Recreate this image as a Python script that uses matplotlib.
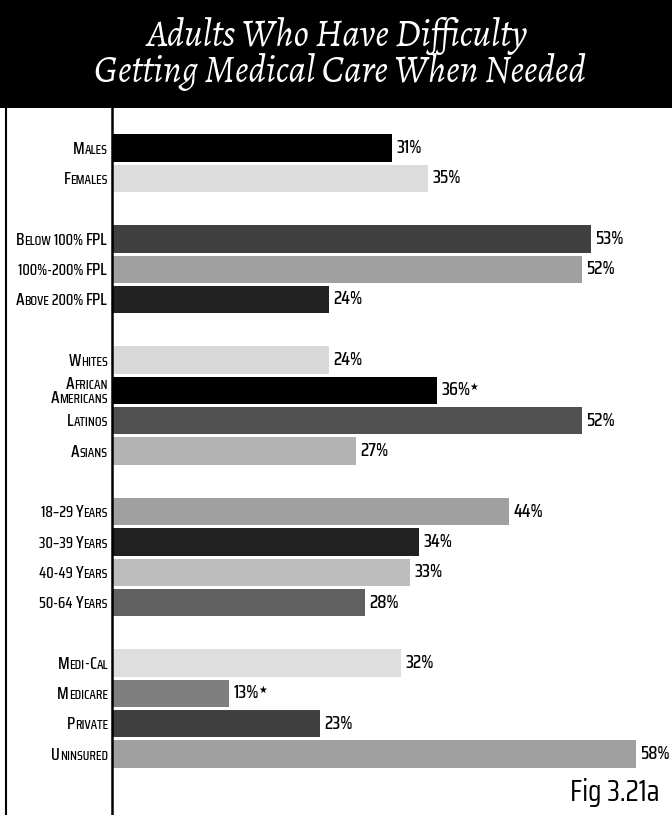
import matplotlib
matplotlib.use("Agg")
import matplotlib.pyplot as plt
from matplotlib.lines import Line2D
from matplotlib.patches import Rectangle

# ---- data -------------------------------------------------------------
categories = [
    "Males", "Females",
    "Below 100% FPL", "100%-200% FPL", "Above 200% FPL",
    "Whites", "African\nAmericans", "Latinos", "Asians",
    "18\u201329 Years", "30\u201339 Years", "40-49 Years", "50-64 Years",
    "Medi-Cal", "Medicare", "Private", "Uninsured",
]
group_sizes = [2, 3, 4, 4, 4]
values = [31, 35, 53, 52, 24, 24, 36, 52, 27, 44, 34, 33, 28, 32, 13, 23, 58]
flagged = [False, False, False, False, False, False, True, False, False,
           False, False, False, False, False, True, False, False]
bar_colors = ["#000000", "#dcdcdc", "#404040", "#a0a0a0", "#222222",
              "#d9d9d9", "#000000", "#505050", "#b3b3b3",
              "#a0a0a0", "#212121", "#bdbdbd", "#606060",
              "#dedede", "#7f7f7f", "#404040", "#a0a0a0"]
title = "Adults Who Have Difficulty\nGetting Medical Care When Needed"
fig_label = "Fig 3.21a"

# ---- fonts ------------------------------------------------------------
LABEL_FONT = ["Saira Condensed", "DejaVu Sans"]
VALUE_FONT = ["Saira Condensed", "DejaVu Sans"]
TITLE_FONT = ["Alegreya", "DejaVu Serif"]

W, H, DPI = 672, 815, 100
fig = plt.figure(figsize=(W / DPI, H / DPI), dpi=DPI)
fig.patch.set_facecolor("white")

# slot positions: one empty slot between groups
slots = []
pos = 0
for n in group_sizes:
    slots.extend(range(pos, pos + n))
    pos += n + 1

# axes geometry in pixels
ax_left_px, ax_top_px = 112, 108
px_per_pct = 9.03
slot_px, first_center_px = 30.3, 148
ax = fig.add_axes([ax_left_px / W, 0, (W - ax_left_px) / W, (H - ax_top_px) / H])
ax.set_xlim(0, (W - ax_left_px) / px_per_pct)
ax.set_ylim((H - first_center_px) / slot_px, (ax_top_px - first_center_px) / slot_px)
ax.barh(slots, values, height=0.9, color=bar_colors, edgecolor="none")
for s in ("top", "right", "bottom"):
    ax.spines[s].set_visible(False)
ax.spines["left"].set_linewidth(1.8)
ax.spines["left"].set_color("black")
ax.set_xticks([])
ax.set_yticks([])
ax.patch.set_alpha(0)

# title band and left rule
fig.add_artist(Rectangle((0, 1 - ax_top_px / H), 1, ax_top_px / H,
                         transform=fig.transFigure, facecolor="black",
                         edgecolor="none", zorder=0))
fig.add_artist(Line2D([5.5 / W, 5.5 / W], [0, 1], transform=fig.transFigure,
                      color="black", lw=1.5, zorder=1))
t1, t2 = title.split("\n")
fig.text(337 / W, 1 - 36 / H, t1, color="white", ha="center", va="center",
         fontsize=27, style="italic", family=TITLE_FONT)
fig.text(340 / W, 1 - 72 / H, t2, color="white", ha="center", va="center",
         fontsize=27, style="italic", family=TITLE_FONT)

renderer = fig.canvas.get_renderer()


def runs_of(label, big=12.5, small=9.5, other=11.0):
    """Split a label into small-caps runs: (text, size)."""
    out = []
    for ch in label:
        if ch.islower():
            size, txt = small, ch.upper()
        elif ch.isupper():
            size, txt = big, ch
        else:
            size, txt = other, ch
        if out and out[-1][1] == size:
            out[-1] = (out[-1][0] + txt, size)
        else:
            out.append((txt, size))
    return out


def draw_right_runs(runs, y, x_off_pt, family):
    """Draw runs right-aligned ending at x_off_pt (points from x=0)."""
    off = x_off_pt
    for txt, size in reversed(runs):
        t = ax.annotate(txt, xy=(0, y), xycoords="data",
                        xytext=(off, 0), textcoords="offset points",
                        ha="right", va="baseline", fontsize=size,
                        weight="medium", family=family, color="black",
                        annotation_clip=False)
        off -= t.get_window_extent(renderer).width * 72 / DPI


# category labels in small caps, right-aligned against the axis
for cat, s in zip(categories, slots):
    lines = cat.split("\n")
    offsets = [0.0] if len(lines) == 1 else [-0.25, 0.23]
    for line, dy in zip(lines, offsets):
        draw_right_runs(runs_of(line), s + dy + 0.19, -3.0, LABEL_FONT)

# value labels
for v, s, f in zip(values, slots, flagged):
    t = ax.annotate(f"{v}%", xy=(v, s), xycoords="data",
                    xytext=(3, 0), textcoords="offset points",
                    ha="left", va="center", fontsize=13.5, weight="medium",
                    family=VALUE_FONT, color="black", annotation_clip=False)
    if f:
        w = t.get_window_extent(renderer).width * 72 / DPI
        ax.annotate("\u2605", xy=(v, s), xycoords="data",
                    xytext=(3 + w - 0.5, 2.5), textcoords="offset points",
                    ha="left", va="center", fontsize=7,
                    family=["DejaVu Sans"], color="black",
                    annotation_clip=False)

fig.text(659 / W, 1 - 801 / H, fig_label, ha="right", va="baseline",
         fontsize=21.5, family=VALUE_FONT, color="black")

fig.savefig("out.png", dpi=DPI)
